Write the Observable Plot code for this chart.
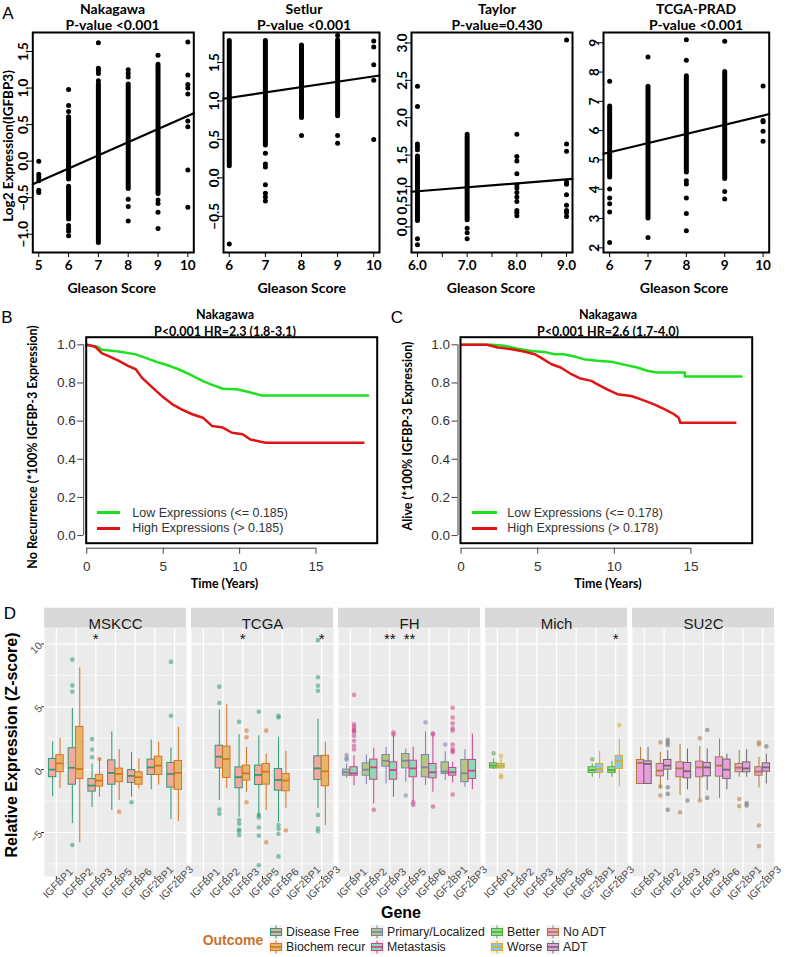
<!DOCTYPE html>
<html><head><meta charset="utf-8">
<script src="https://cdn.jsdelivr.net/npm/d3@7"></script>
<script src="https://cdn.jsdelivr.net/npm/@observablehq/plot@0.6"></script>
<style>
body{margin:0;background:#fff;}
#root{position:relative;width:787px;height:957px;overflow:hidden;background:#fff;}
.lbl{position:absolute;white-space:nowrap;line-height:1;}
</style></head><body><div id="root"></div><script>
// ---------------- Panel A data ----------------
const nakagawaStrips = [[6,-0.25,0.6],[6,-0.8,-0.35],[7,-1.12,1.05],[8,-0.38,1.05],[9,-0.45,1.32]];
const nakagawaPoints = [[5,0.0],[5,-0.18],[5,-0.22],[5,-0.27],[5,-0.4],[5,-0.43],[6,0.98],[6,0.76],[6,0.68],[6,-0.88],[6,-0.92],[6,-0.96],[6,-1.02],[7,1.62],[7,1.27],[7,1.24],[7,1.2],[7,1.1],[8,1.25],[8,1.2],[8,1.15],[8,-0.52],[8,-0.62],[8,-0.82],[9,1.45],[9,-0.53],[9,-0.58],[9,-0.7],[9,-0.92],[10,1.63],[10,1.18],[10,1.05],[10,1.0],[10,0.92],[10,0.55],[10,0.47],[10,-0.12],[10,-0.63]];
const nakagawaFit = [-1.18, 0.18];
const setlurStrips = [[6,0.15,1.78],[7,0.42,1.78],[8,0.78,1.72],[9,0.8,1.79]];
const setlurPoints = [[6,-0.86],[7,0.32],[7,0.18],[7,0.14],[7,-0.09],[7,-0.2],[7,-0.25],[7,-0.3],[8,0.55],[9,1.85],[9,0.55],[9,0.45],[10,1.78],[10,1.7],[10,1.47],[10,1.27],[10,0.5]];
const setlurFit = [0.62, 0.07];
const taylorStrips = [[6,0.62,1.48],[7,0.63,1.74]];
const taylorPoints = [[6,2.42],[6,2.15],[6,1.65],[6,1.61],[6,1.57],[6,0.38],[6,0.3],[7,1.78],[7,0.52],[7,0.46],[7,0.38],[8,1.78],[8,1.48],[8,1.42],[8,1.25],[8,1.1],[8,1.06],[8,1.0],[8,0.94],[8,0.88],[8,0.76],[8,0.73],[8,0.69],[9,3.04],[9,1.65],[9,1.55],[9,1.14],[9,1.11],[9,0.97],[9,0.83],[9,0.76],[9,0.73],[9,0.68]];
const taylorFit = [0.698, 0.053];
const taylorYTicks = [0.54, 0.83, 1.08, 1.5, 2.0, 2.5, 3.0];
const taylorYLabels = ["0.0","0.5","1.0","1.5","2.0","2.5","3.0"];
const tcgaStrips = [[6,4.4,6.82],[7,3.0,7.5],[8,4.57,7.86],[9,4.35,8.0]];
const tcgaPoints = [[6,7.69],[6,4.01],[6,3.7],[6,3.5],[6,3.22],[6,2.18],[7,8.51],[7,2.35],[8,9.1],[8,8.4],[8,4.29],[8,4.18],[8,3.7],[8,3.17],[8,2.58],[9,9.05],[9,3.92],[9,3.67],[10,7.52],[10,6.35],[10,6.3],[10,5.98],[10,5.64]];
const tcgaFit = [3.376, 0.314];

// ---------------- Panel B / C data ----------------
const lowB = [[0,1],[0.7,0.99],[1,0.974],[2.1,0.965],[3.2,0.95],[3.8,0.933],[4.7,0.907],[5.4,0.89],[6,0.872],[6.7,0.846],[7.6,0.81],[8.2,0.79],[8.9,0.77],[9.8,0.767],[10.6,0.753],[11.4,0.735],[18.4,0.735]];
const highB = [[0,1],[0.55,0.99],[1,0.955],[1.4,0.942],[2.1,0.916],[2.7,0.89],[3.2,0.872],[3.6,0.828],[4.3,0.776],[4.9,0.732],[5.6,0.688],[6.2,0.662],[6.9,0.636],[7.6,0.618],[8.2,0.574],[8.9,0.566],[9.5,0.539],[10.2,0.531],[10.7,0.504],[11.7,0.487],[18.1,0.487]];
const lowC = [[0,1],[2,1],[2.8,0.995],[3.7,0.98],[4.6,0.968],[5.4,0.963],[6.1,0.951],[6.7,0.951],[7.4,0.939],[8,0.925],[8.9,0.916],[9.8,0.911],[10.7,0.895],[11.5,0.881],[12.2,0.863],[12.8,0.855],[14.6,0.855],[14.6,0.834],[18.3,0.834]];
const highC = [[0,1],[1.7,1],[2.4,0.986],[3.3,0.977],[4.1,0.965],[4.8,0.951],[5.2,0.933],[5.9,0.898],[6.5,0.881],[7.2,0.846],[7.8,0.823],[8.5,0.811],[8.9,0.793],[9.6,0.764],[10.2,0.741],[11.1,0.732],[11.7,0.715],[12.6,0.688],[13.3,0.662],[13.9,0.636],[14.2,0.618],[14.3,0.592],[17.9,0.592]];
const kmXTicks = [0,5,10,15];
const kmYTicks = [0,0.2,0.4,0.6,0.8,1.0];
const legendB = ["Low Expressions (<= 0.185)","High Expressions (> 0.185)"];
const legendC = ["Low Expressions (<= 0.178)","High Expressions (> 0.178)"];

// ---------------- Panel D data ----------------
const datasets = ["MSKCC","TCGA","FH","Mich","SU2C"];
const genes = ["IGFBP1","IGFBP2","IGFBP3","IGFBP5","IGFBP6","IGF2BP1","IGF2BP3"];
const outcomeNames = ["Disease Free","Biochem recur","Primary/Localized","Metastasis","Better","Worse","No ADT","ADT"];
const outcomeStroke = ["#2f9a76","#d9731f","#7d80b0","#d23f8a","#58a83a","#d8ae2a","#a97d3a","#6a6a6a"];
const outcomeFill = ["#f1a9a0","#e6b46c","#b4c77c","#8cd9b6","#8fdf9c","#8bc6e2","#ec9fe4","#e79ed9"];
const mskccBoxes = [
 ["IGFBP1","Disease Free",-2.15,-0.6,0,0.85,2.2],["IGFBP1","Biochem recur",-1.5,-0.2,0.5,1.15,2.5],
 ["IGFBP2","Disease Free",-4.3,-1.2,0.15,1.7,4.87],["IGFBP2","Biochem recur",-5.8,-0.75,0.05,3.4,8.1],
 ["IGFBP3","Disease Free",-3.0,-1.75,-1.27,-0.75,0.45],["IGFBP3","Biochem recur",-2.2,-1.35,-0.87,-0.42,0.9],
 ["IGFBP5","Disease Free",-3.25,-1.2,-0.26,0.74,3.0],["IGFBP5","Biochem recur",-2.46,-1.0,-0.34,0.08,1.6],
 ["IGFBP6","Disease Free",-2.2,-1.06,-0.5,-0.03,1.38],["IGFBP6","Biochem recur",-1.53,-1.2,-0.6,-0.21,0.85],
 ["IGF2BP1","Disease Free",-1.6,-0.42,0.18,0.8,2.35],["IGF2BP1","Biochem recur",-1.22,-0.42,0.32,1.03,2.17],
 ["IGF2BP3","Disease Free",-3.97,-1.43,-0.34,0.53,1.72],["IGF2BP3","Biochem recur",-4.13,-1.6,-0.26,0.69,3.36]];
const mskccOutliers = [["IGFBP2","Disease Free",8.75],["IGFBP2","Disease Free",6.7],["IGFBP2","Disease Free",6.2],["IGFBP2","Disease Free",-6.0],["IGFBP3","Disease Free",2.43],["IGFBP3","Disease Free",1.6],["IGFBP3","Disease Free",0.98],["IGFBP3","Biochem recur",0.85],["IGFBP5","Biochem recur",-3.35],["IGFBP6","Disease Free",-2.6],["IGF2BP3","Disease Free",8.57],["IGF2BP3","Disease Free",4.29]];
const tcgaBoxes = [
 ["IGFBP2","Disease Free",-2.46,0.1,1.03,1.9,4.74],["IGFBP2","Biochem recur",-1.53,-0.66,0.85,1.83,5.2],
 ["IGFBP3","Disease Free",-3.78,-1.48,-0.6,0.18,2.78],["IGFBP3","Biochem recur",-1.8,-0.87,-0.29,0.32,1.77],
 ["IGFBP5","Disease Free",-3.78,-1.22,-0.42,0.32,2.7],["IGFBP5","Biochem recur",-3.25,-1.19,-0.16,0.45,1.24],
 ["IGFBP6","Disease Free",-4.2,-1.67,-0.82,0.05,2.56],["IGFBP6","Biochem recur",-3.1,-1.72,-0.87,-0.34,1.45],
 ["IGF2BP3","Disease Free",-3.1,-0.82,0.1,1.06,4.0],["IGF2BP3","Biochem recur",-4.44,-1.32,-0.13,1.1,2.17]];
const tcgaOutliers = [["IGFBP2","Disease Free",6.6],["IGFBP2","Disease Free",5.3],["IGFBP2","Disease Free",-3.17],["IGFBP2","Disease Free",-3.5],
 ["IGFBP3","Disease Free",3.8],["IGFBP3","Disease Free",-4.0],["IGFBP3","Disease Free",-4.3],["IGFBP3","Disease Free",-4.76],["IGFBP3","Disease Free",-4.9],["IGFBP3","Disease Free",-5.2],
 ["IGFBP3","Biochem recur",3.1],["IGFBP3","Biochem recur",2.57],["IGFBP3","Biochem recur",-2.6],
 ["IGFBP5","Disease Free",4.6],["IGFBP5","Disease Free",-3.6],["IGFBP5","Disease Free",-3.8],["IGFBP5","Disease Free",-4.6],["IGFBP5","Disease Free",-5.25],["IGFBP5","Disease Free",-7.6],
 ["IGFBP5","Biochem recur",3.1],["IGFBP5","Biochem recur",-5.77],
 ["IGFBP6","Disease Free",4.28],["IGFBP6","Disease Free",4.15],["IGFBP6","Disease Free",-4.4],["IGFBP6","Disease Free",-4.7],["IGFBP6","Disease Free",-5.1],["IGFBP6","Disease Free",-6.9],
 ["IGFBP6","Biochem recur",-4.84],
 ["IGF2BP3","Disease Free",10.3],["IGF2BP3","Disease Free",7.35],["IGF2BP3","Disease Free",6.67],["IGF2BP3","Disease Free",6.27],["IGF2BP3","Disease Free",-3.6],["IGF2BP3","Disease Free",-4.66],["IGF2BP3","Disease Free",-4.9]];
const fhBoxes = [
 ["IGFBP1","Primary/Localized",-0.69,-0.48,-0.21,0.0,0.45],["IGFBP1","Metastasis",-1.27,-0.48,-0.29,0.19,1.1],
 ["IGFBP2","Primary/Localized",-1.19,-0.48,0.0,0.5,1.16],["IGFBP2","Metastasis",-2.72,-0.8,0.18,0.8,1.7],
 ["IGFBP3","Primary/Localized",-1.14,0.24,0.71,1.16,1.77],["IGFBP3","Metastasis",-2.2,-0.8,-0.03,0.58,2.7],
 ["IGFBP5","Primary/Localized",-1.0,0.1,0.71,1.24,1.64],["IGFBP5","Metastasis",-2.6,-0.61,0.1,0.71,1.77],
 ["IGFBP6","Primary/Localized",-1.27,-0.61,0.18,1.16,3.0],["IGFBP6","Metastasis",-1.8,-0.69,-0.21,0.45,2.75],
 ["IGF2BP1","Primary/Localized",-0.87,-0.34,-0.16,0.58,1.43],["IGF2BP1","Metastasis",-1.06,-0.48,-0.21,0.13,0.58],
 ["IGF2BP3","Primary/Localized",-1.4,-1.0,-0.29,0.77,1.59],["IGF2BP3","Metastasis",-1.6,-0.74,-0.08,0.77,2.83]];
const fhOutliers = [["IGFBP1","Primary/Localized",1.16],["IGFBP1","Primary/Localized",0.9],["IGFBP1","Primary/Localized",0.8],
 ["IGFBP1","Metastasis",5.95],["IGFBP1","Metastasis",3.6],["IGFBP1","Metastasis",3.4],["IGFBP1","Metastasis",3.2],["IGFBP1","Metastasis",3.1],["IGFBP1","Metastasis",3.0],["IGFBP1","Metastasis",2.7],["IGFBP1","Metastasis",2.3],["IGFBP1","Metastasis",1.9],["IGFBP1","Metastasis",1.6],
 ["IGFBP2","Metastasis",-3.2],["IGFBP3","Metastasis",2.96],["IGFBP3","Metastasis",2.8],
 ["IGFBP5","Primary/Localized",-2.06],["IGFBP5","Metastasis",-2.6],["IGFBP5","Metastasis",-2.8],
 ["IGFBP6","Primary/Localized",3.76],["IGFBP6","Metastasis",2.9],["IGFBP6","Metastasis",2.8],["IGFBP6","Metastasis",-2.94],
 ["IGF2BP1","Primary/Localized",2.0],["IGF2BP1","Metastasis",4.92],["IGF2BP1","Metastasis",4.15],["IGF2BP1","Metastasis",3.68],["IGF2BP1","Metastasis",3.28],["IGF2BP1","Metastasis",3.1],["IGF2BP1","Metastasis",2.0],["IGF2BP1","Metastasis",1.64],["IGF2BP1","Metastasis",1.5],["IGF2BP1","Metastasis",1.38],["IGF2BP1","Metastasis",-1.98]];
const michBoxes = [
 ["IGFBP1","Better",0.0,0.1,0.32,0.5,0.85],["IGFBP1","Worse",0.0,0.1,0.29,0.45,0.9],
 ["IGF2BP1","Better",-0.6,-0.26,-0.03,0.19,0.45],["IGF2BP1","Worse",-0.74,-0.26,0.05,0.45,1.45],
 ["IGF2BP3","Better",-0.6,-0.26,-0.03,0.19,0.66],["IGF2BP3","Worse",-1.35,0.05,0.69,1.1,2.43]];
const michOutliers = [["IGFBP1","Better",1.3],["IGFBP1","Worse",1.1],["IGFBP1","Worse",-0.48],["IGFBP1","Worse",-0.6],["IGF2BP1","Better",0.82],["IGF2BP3","Worse",3.54]];
const su2cBoxes = [
 ["IGFBP1","No ADT",-1.14,-1.14,0.53,0.77,1.77],["IGFBP1","ADT",-1.14,-1.14,0.45,0.66,1.77],
 ["IGFBP2","No ADT",-1.53,-0.53,-0.08,0.45,1.38],["IGFBP2","ADT",-0.87,0.0,0.32,0.77,1.5],
 ["IGFBP3","No ADT",-2.06,-0.61,0.1,0.58,2.0],["IGFBP3","ADT",-1.6,-0.69,-0.13,0.53,1.64],
 ["IGFBP5","No ADT",-2.38,-0.61,0.18,0.64,1.83],["IGFBP5","ADT",-1.67,-0.53,0.18,0.53,1.64],
 ["IGFBP6","No ADT",-2.28,-0.56,0.32,0.98,2.43],["IGFBP6","ADT",-1.6,-0.74,0.0,0.8,1.24],
 ["IGF2BP1","No ADT",-0.6,-0.21,0.16,0.45,1.5],["IGF2BP1","ADT",-0.6,-0.21,0.1,0.58,1.59],
 ["IGF2BP3","No ADT",-1.46,-0.48,-0.16,0.19,0.98],["IGF2BP3","ADT",-1.14,-0.16,0.18,0.5,1.24]];
const su2cOutliers = [["IGFBP2","No ADT",2.17],["IGFBP2","No ADT",-1.35],["IGFBP2","No ADT",-2.06],["IGFBP2","ADT",2.38],["IGFBP2","ADT",2.17],["IGFBP2","ADT",1.96],["IGFBP2","ADT",-1.4],["IGFBP2","ADT",-1.93],["IGFBP2","ADT",-3.2],["IGFBP3","No ADT",-3.39],["IGFBP3","ADT",-2.46],["IGFBP5","No ADT",2.49],["IGFBP5","No ADT",-2.46],["IGFBP5","ADT",3.15],["IGFBP5","ADT",-2.25],["IGF2BP1","No ADT",-2.33],["IGF2BP1","No ADT",-2.9],["IGF2BP1","ADT",-2.65],["IGF2BP1","ADT",-2.86],["IGF2BP3","No ADT",2.17],["IGF2BP3","No ADT",2.0],["IGF2BP3","No ADT",-4.44],["IGF2BP3","No ADT",-6.08],["IGF2BP3","ADT",1.85]];
const stars = [["MSKCC","IGFBP3","*"],["TCGA","IGFBP3","*"],["TCGA","IGF2BP3","*"],["FH","IGFBP3","**"],["FH","IGFBP5","**"],["Mich","IGF2BP3","*"]];
const starLevel = 10.6;
const zMajor = [-5,0,5,10];
const zMinor = [-7.5,-2.5,2.5,7.5];

// ---------------- helpers ----------------
const root = document.getElementById("root");
function place(node, left, top, w) {
  const d = document.createElement("div");
  d.style.position = "absolute"; d.style.left = left + "px"; d.style.top = top + "px"; d.style.width = w + "px";
  d.appendChild(node); root.appendChild(d);
}
function label(text, x, y, o = {}) {
  const d = document.createElement("div");
  d.className = "lbl"; d.textContent = text;
  Object.assign(d.style, {left: x + "px", top: y + "px", fontFamily: o.family || "Lato", fontSize: (o.size || 13) + "px",
    fontWeight: o.weight || "bold", color: o.color || "#000",
    transform: `translate(${o.anchor === "start" ? "0" : "-50%"},-50%) rotate(${o.rotate || 0}deg)`});
  root.appendChild(d);
}

// ---------------- Panel A ----------------
function scatter({strips, points, fit, xDomain, yDomain, xTicks, xFormat, yTicks, yFormat, width, ml, mr}) {
  const fitLine = xDomain.map(x => ({x, y: fit[0] + fit[1] * x}));
  return Plot.plot({
    width, height: 300, marginLeft: ml, marginRight: mr, marginTop: 32, marginBottom: 48,
    x: {domain: xDomain}, y: {domain: yDomain},
    style: {fontFamily: "Lato", fontSize: "13.5px", fontWeight: "bold", color: "#000", background: "none", overflow: "visible"},
    marks: [
      Plot.ruleX(strips, {x: d => d[0], y1: d => d[1], y2: d => d[2], stroke: "#000", strokeWidth: 5, strokeLinecap: "round"}),
      Plot.dot(points, {x: d => d[0], y: d => d[1], r: 2.5, fill: "#000"}),
      Plot.line(fitLine, {x: "x", y: "y", stroke: "#000", strokeWidth: 2.2}),
      Plot.frame({stroke: "#000", strokeWidth: 2}),
      Plot.axisX({ticks: xTicks, tickFormat: xFormat, tickSize: 5, tickPadding: 3, label: null}),
      Plot.axisY({ticks: yTicks, tickFormat: yFormat, tickRotate: -90, tickSize: 5, tickPadding: 0, label: null})
    ]
  });
}
const f1 = d3.format(".1f");
place(scatter({strips: nakagawaStrips, points: nakagawaPoints, fit: nakagawaFit, xDomain: [4.8, 10.2], yDomain: [-1.25, 1.76],
  xTicks: [5,6,7,8,9,10], xFormat: d => d, yTicks: [-1,-0.5,0,0.5,1,1.5], yFormat: f1, width: 200, ml: 32.3, mr: 6.7}), 0, 0, 200);
place(scatter({strips: setlurStrips, points: setlurPoints, fit: setlurFit, xDomain: [5.84, 10.16], yDomain: [-0.97, 1.89],
  xTicks: [6,7,8,9,10], xFormat: d => d, yTicks: [-0.5,0,0.5,1,1.5], yFormat: f1, width: 190, ml: 23, mr: 11}), 200, 0, 190);
const taylorMap = new Map(taylorYTicks.map((t, i) => [t, taylorYLabels[i]]));
place(scatter({strips: taylorStrips, points: taylorPoints, fit: taylorFit, xDomain: [5.88, 9.12], yDomain: [0.197, 3.14],
  xTicks: [6,6.5,7,7.5,8,8.5,9], xFormat: d => Number.isInteger(d) ? d.toFixed(1) : "", yTicks: taylorYTicks, yFormat: d => taylorMap.get(d), width: 190, ml: 21, mr: 8}), 390, 0, 190);
place(scatter({strips: tcgaStrips, points: tcgaPoints, fit: tcgaFit, xDomain: [5.84, 10.16], yDomain: [1.84, 9.35],
  xTicks: [6,7,8,9,10], xFormat: d => d, yTicks: [2,3,4,5,6,7,8,9], yFormat: d => d, width: 200, ml: 23, mr: 11.3}), 580, 0, 200);

label("A", 8, 13, {family: "Liberation Sans", size: 17, weight: "normal"});
[["Nakagawa","P-value <0.001",112.5],["Setlur","P-value <0.001",304],["Taylor","P-value=0.430",497],["TCGA-PRAD","P-value <0.001",696]]
  .forEach(([t, p, x]) => { label(t, x, 9, {size: 14}); label(p, x, 25, {size: 14}); });
[111.7, 301.7, 491, 684].forEach(x => label("Gleason Score", x, 288, {size: 14}));
label("Log2 Expression(IGFBP3)", 9, 146, {size: 13.5, rotate: -90});

// ---------------- Panels B / C ----------------
const kmXDomain = [-0.04, 19.0], kmYDomain = [-0.04, 1.04];
const lowColor = "#1ee01e", highColor = "#e01414";
function km({low, high, width, ml, mr}) {
  return Plot.plot({
    width, height: 290, marginLeft: ml, marginRight: mr, marginTop: 36.7, marginBottom: 47.3,
    x: {domain: kmXDomain}, y: {domain: kmYDomain},
    style: {fontFamily: "Liberation Sans", fontSize: "13.5px", color: "#333", background: "none", overflow: "visible"},
    marks: [
      Plot.line(low, {x: d => d[0], y: d => d[1], stroke: lowColor, strokeWidth: 2.5}),
      Plot.line(high, {x: d => d[0], y: d => d[1], stroke: highColor, strokeWidth: 2.5}),
      Plot.frame({stroke: "#000", strokeWidth: 2}),
      Plot.ruleY([kmYDomain[0]], {x1: () => kmXTicks[0], x2: () => kmXTicks[kmXTicks.length - 1], dy: 5, stroke: "#444"}),
      Plot.axisX({ticks: kmXTicks, tickSize: 6, tickPadding: 7, dy: 5, stroke: "#444", label: null}),
      Plot.ruleX([kmXDomain[0]], {y1: () => kmYTicks[0], y2: () => kmYTicks[kmYTicks.length - 1], dx: -2.5, stroke: "#444"}),
      Plot.axisY({ticks: kmYTicks, tickFormat: f1, tickSize: 6, tickPadding: 2, dx: -2.5, stroke: "#444", label: null})
    ]
  });
}
place(km({low: lowB, high: highB, width: 390, ml: 85.7, mr: 13.3}), 0, 300, 390);
place(km({low: lowC, high: highC, width: 397, ml: 70, mr: 35.3}), 390, 300, 397);
label("B", 7, 317, {family: "Liberation Sans", size: 17, weight: "normal"});
label("C", 397, 317, {family: "Liberation Sans", size: 17, weight: "normal"});
label("Nakagawa", 225, 315, {size: 12.5}); label("P<0.001 HR=2.3 (1.8-3.1)", 225, 331.5, {size: 12.5});
label("Nakagawa", 608, 315, {size: 12.5}); label("P<0.001 HR=2.6 (1.7-4.0)", 608, 331.5, {size: 12.5});
label("Time (Years)", 224.5, 583.5, {size: 12.5}); label("Time (Years)", 608, 583.5, {size: 12.5});
label("No Recurrence (*100% IGFBP-3 Expression)", 33, 447, {size: 12.5, rotate: -90});
label("Alive (*100% IGFBP-3 Expression)", 408, 436, {size: 12.5, rotate: -90});
function kmLegend(texts, x0, x1, tx) {
  [lowColor, highColor].forEach((c, i) => {
    const y = 512.7 + i * 15.6;
    const ln = document.createElement("div");
    Object.assign(ln.style, {position: "absolute", left: x0 + "px", top: (y - 1.25) + "px", width: (x1 - x0) + "px", height: "2.5px", background: c});
    root.appendChild(ln);
    label(texts[i], tx, y, {family: "Liberation Sans", size: 12.5, weight: "normal", color: "#333", anchor: "start"});
  });
}
kmLegend(legendB, 96.7, 120, 132.3);
kmLegend(legendC, 471.7, 496.7, 507.3);

// ---------------- Panel D ----------------
const halfBox = 0.1875;
const geneIndex = new Map(genes.map((g, i) => [g, i + 1]));
const oIdx = o => outcomeNames.indexOf(o);
const xPos = (g, o) => geneIndex.get(g) + (oIdx(o) % 2 ? halfBox : -halfBox);
const boxSets = [["MSKCC", mskccBoxes], ["TCGA", tcgaBoxes], ["FH", fhBoxes], ["Mich", michBoxes], ["SU2C", su2cBoxes]];
const outSets = [["MSKCC", mskccOutliers], ["TCGA", tcgaOutliers], ["FH", fhOutliers], ["Mich", michOutliers], ["SU2C", su2cOutliers]];
const boxes = boxSets.flatMap(([ds, arr]) => arr.map(([gene, outcome, lo, q1, med, q3, hi]) =>
  ({ds, gene, outcome, lo, q1, med, q3, hi, xc: xPos(gene, outcome), stroke: outcomeStroke[oIdx(outcome)], fill: outcomeFill[oIdx(outcome)]})));
const outliers = outSets.flatMap(([ds, arr]) => arr.map(([gene, outcome, v]) =>
  ({ds, gene, outcome, v, xc: xPos(gene, outcome), stroke: outcomeStroke[oIdx(outcome)]})));
const zDomain = [-8.5, 11.25];
const xDomainD = [0.4, 7.6];
const dTop = 27.7, dBottom = 44, dHeight = 320;
const pxPerUnit = (dHeight - dTop - dBottom) / (zDomain[1] - zDomain[0]);
const stripUnits = 20 / pxPerUnit;
const geneTicks = genes.map((g, i) => i + 1);
const plotD = Plot.plot({
  width: 787, height: dHeight, marginLeft: 43.3, marginRight: 13, marginTop: dTop, marginBottom: dBottom,
  fx: {domain: datasets, paddingInner: 0.032, paddingOuter: 0, axis: null, label: null},
  x: {domain: xDomainD}, y: {domain: zDomain},
  color: {type: "identity"},
  style: {fontFamily: "Liberation Sans", fontSize: "10.5px", color: "#4d4d4d", background: "none", overflow: "visible"},
  marks: [
    Plot.frame({fill: "#ebebeb", stroke: null}),
    Plot.gridY(zMinor, {stroke: "#fff", strokeOpacity: 1, strokeWidth: 0.6}),
    Plot.gridY(zMajor, {stroke: "#fff", strokeOpacity: 1, strokeWidth: 1.2}),
    Plot.gridX(geneTicks, {stroke: "#fff", strokeOpacity: 1, strokeWidth: 1.2}),
    Plot.rect(datasets, {fx: d => d, x1: () => xDomainD[0], x2: () => xDomainD[1], y1: () => zDomain[1], y2: () => zDomain[1] + stripUnits, fill: "#d9d9d9"}),
    Plot.text(datasets, {fx: d => d, text: d => d, frameAnchor: "top", dy: -10, fontSize: 15, fill: "#1a1a1a"}),
    Plot.ruleX(boxes, {fx: "ds", x: "xc", y1: "lo", y2: "q1", stroke: "stroke", strokeWidth: 1}),
    Plot.ruleX(boxes, {fx: "ds", x: "xc", y1: "q3", y2: "hi", stroke: "stroke", strokeWidth: 1}),
    Plot.rect(boxes, {fx: "ds", x1: d => d.xc - halfBox, x2: d => d.xc + halfBox, y1: "q1", y2: "q3", fill: "fill", stroke: "stroke", strokeWidth: 1}),
    Plot.ruleY(boxes, {fx: "ds", y: "med", x1: d => d.xc - halfBox, x2: d => d.xc + halfBox, stroke: "stroke", strokeWidth: 1.8}),
    Plot.dot(outliers, {fx: "ds", x: "xc", y: "v", r: 2.3, fill: "stroke", fillOpacity: 0.55, stroke: null}),
    Plot.text(stars, {fx: d => d[0], x: d => geneIndex.get(d[1]), y: () => starLevel, text: d => d[2], dy: 3, fontSize: 15, fill: "#111"}),
    Plot.axisY({ticks: zMajor, tickRotate: -45, tickSize: 3, tickPadding: 1, stroke: "#333", label: null}),
    Plot.axisX({ticks: geneTicks, tickSize: 3, tickFormat: () => "", stroke: "#333", label: null}),
    Plot.text(genes, {x: (d, i) => i + 1, frameAnchor: "bottom", text: d => d, rotate: -45, dx: 4, dy: 9, fill: "#4d4d4d"})
  ]
});
place(plotD, 0, 600, 787);
label("D", 10, 613, {family: "Liberation Sans", size: 17, weight: "normal"});
label("Relative Expression (Z-score)", 12, 745, {family: "Liberation Sans", size: 16, rotate: -90});
label("Gene", 401, 913, {family: "Liberation Sans", size: 16});
label("Outcome", 233, 940, {family: "Liberation Sans", size: 14, color: "#c8742f"});

// legend for D
const legendCols = [[0,1],[2,3],[4,5],[6,7]];
const legendKeyX = [269, 370, 490, 546];
legendCols.forEach((pair, c) => pair.forEach((oi, r) => {
  const y = 931.7 + r * 15;
  const ns = "http://www.w3.org/2000/svg";
  const svg = document.createElementNS(ns, "svg");
  svg.setAttribute("width", 14); svg.setAttribute("height", 14);
  svg.style.position = "absolute"; svg.style.left = legendKeyX[c] + "px"; svg.style.top = (y - 7) + "px";
  const mk = (tag, attrs) => { const e = document.createElementNS(ns, tag); for (const k in attrs) e.setAttribute(k, attrs[k]); svg.appendChild(e); };
  mk("rect", {x: 0, y: 0, width: 14, height: 14, fill: "#f2f2f2"});
  mk("line", {x1: 7, x2: 7, y1: 0.5, y2: 13.5, stroke: outcomeStroke[oi], "stroke-width": 1});
  mk("rect", {x: 1.5, y: 3.5, width: 11, height: 7, fill: outcomeFill[oi], stroke: outcomeStroke[oi], "stroke-width": 1});
  mk("line", {x1: 1.5, x2: 12.5, y1: 7, y2: 7, stroke: outcomeStroke[oi], "stroke-width": 1.6});
  root.appendChild(svg);
  label(outcomeNames[oi], legendKeyX[c] + 17, y, {family: "Liberation Sans", size: 12.3, weight: "normal", color: "#222", anchor: "start"});
}));
</script></body></html>
